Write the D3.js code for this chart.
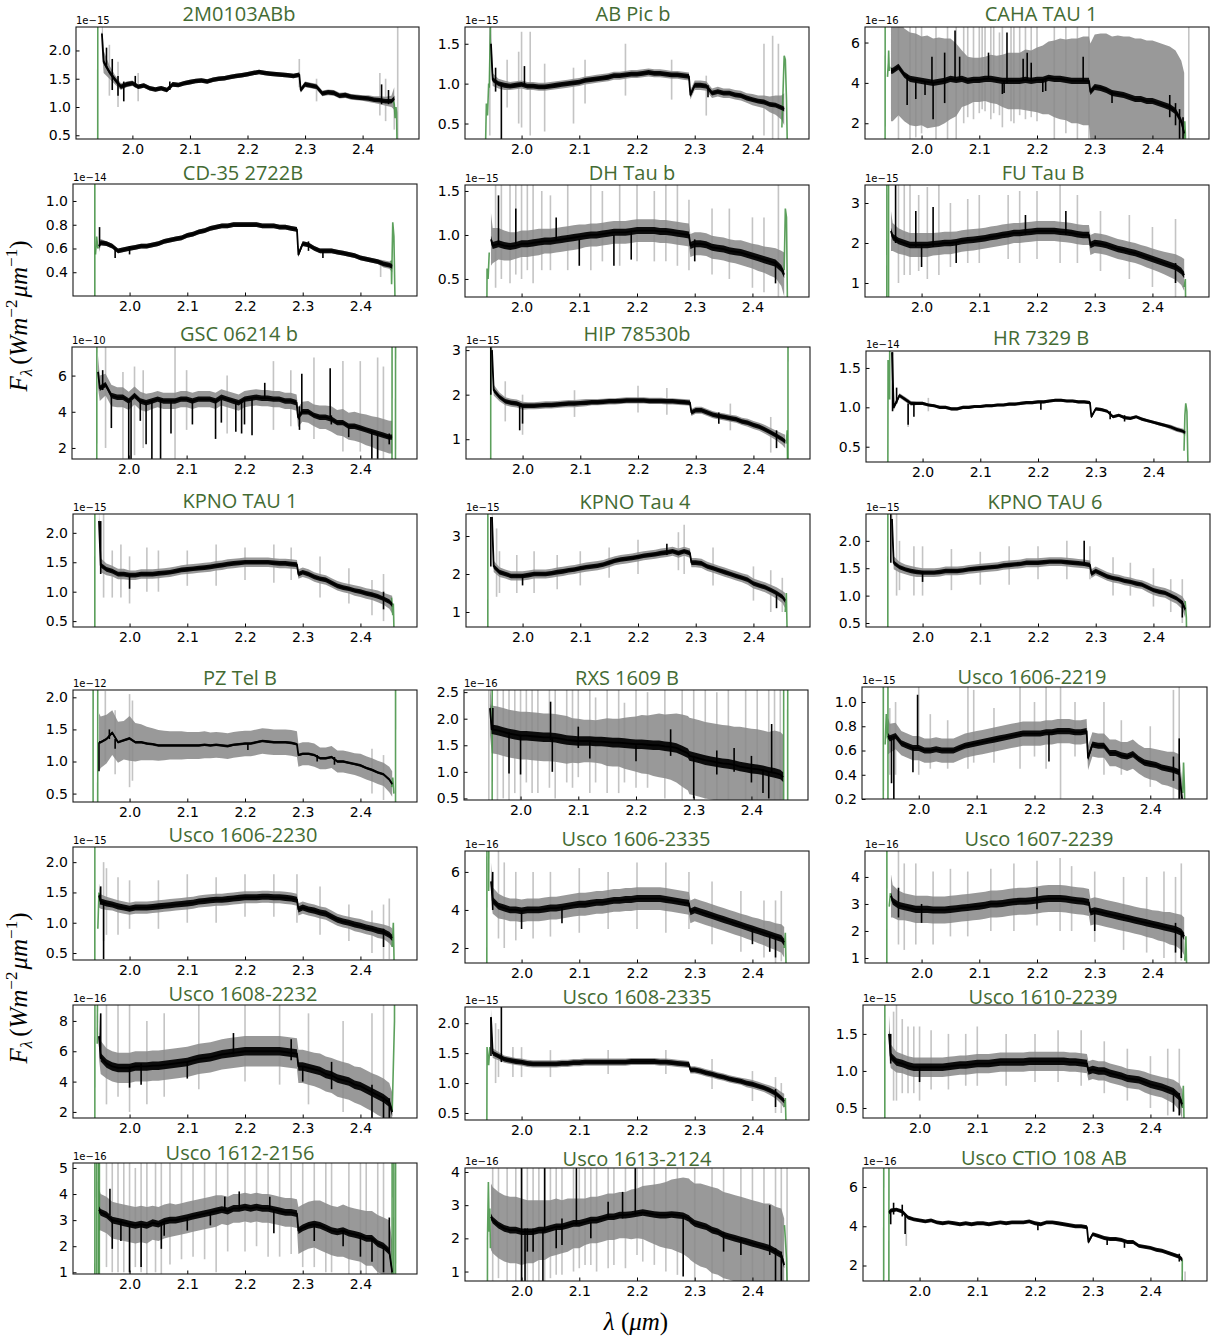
<!DOCTYPE html>
<html>
<head>
<meta charset="utf-8">
<script src="https://cdn.jsdelivr.net/npm/d3@7/dist/d3.min.js"></script>
<style>
  body { margin: 0; background: #fff; }
  svg { display: block; }
</style>
</head>
<body>
<svg id="chart" width="1222" height="1341"></svg>
<script>
// K-band spectra of young companions: flux (black), uncertainty (grey), band edges (green)

const objectNames = ["2M0103ABb","AB Pic b","CAHA TAU 1","CD-35 2722B","DH Tau b","FU Tau B",
  "GSC 06214 b","HIP 78530b","HR 7329 B","KPNO TAU 1","KPNO Tau 4","KPNO TAU 6",
  "PZ Tel B","RXS 1609 B","Usco 1606-2219","Usco 1606-2230","Usco 1606-2335","Usco 1607-2239",
  "Usco 1608-2232","Usco 1608-2335","Usco 1610-2239","Usco 1612-2156","Usco 1613-2124","Usco CTIO 108 AB"];

// power of ten applied to each panel's flux axis
const fluxExponents = [-15,-15,-16,-14,-15,-15,-10,-15,-14,-15,-15,-15,-12,-16,-15,-15,-16,-16,-16,-15,-15,-16,-16,-16];

const yLimits = [[0.434,2.415],[0.306,1.71],[1.22,6.77],[0.2,1.143],[0.295,1.568],[0.65,3.45],
  [1.39,7.58],[0.556,3.07],[0.306,1.715],[0.4,2.32],[0.605,3.58],[0.427,2.49],
  [0.369,2.114],[0.47,2.54],[0.2,1.124],[0.385,2.25],[1.21,7.1],[0.815,4.96],
  [1.6,9.05],[0.383,2.27],[0.365,1.89],[0.935,5.19],[0.715,4.12],[1.21,6.97]];

const yTickValues = [[0.5,1.0,1.5,2.0],[0.5,1.0,1.5],[2,4,6],[0.4,0.6,0.8,1.0],[0.5,1.0,1.5],[1,2,3],
  [2,4,6],[1,2,3],[0.5,1.0,1.5],[0.5,1.0,1.5,2.0],[1,2,3],[0.5,1.0,1.5,2.0],
  [0.5,1.0,1.5,2.0],[0.5,1.0,1.5,2.0,2.5],[0.2,0.4,0.6,0.8,1.0],[0.5,1.0,1.5,2.0],[2,4,6],[1,2,3,4],
  [2,4,6,8],[0.5,1.0,1.5,2.0],[0.5,1.0,1.5],[1,2,3,4,5],[1,2,3,4],[2,4,6]];

const xTickValues = [2.0, 2.1, 2.2, 2.3, 2.4];

// wavelength samples (micron)
const waveGrid = [1.947,1.95,1.96,1.97,1.98,1.99,2.00,2.01,2.02,2.03,
  2.04,2.05,2.06,2.07,2.08,2.09,2.10,2.11,2.12,2.13,
  2.14,2.15,2.16,2.17,2.18,2.19,2.20,2.21,2.22,2.23,
  2.24,2.25,2.26,2.27,2.28,2.29,2.2925,2.30,2.31,2.32,
  2.33,2.34,2.35,2.36,2.37,2.38,2.39,2.40,2.41,2.42,
  2.43,2.44,2.45,2.455];

const fluxValues = [
  [2.30,1.80,1.62,1.48,1.36,1.40,1.42,1.36,1.38,1.33, 1.31,1.33,1.30,1.40,1.39,1.42,1.44,1.46,1.47,1.45, 1.48,1.50,1.51,1.53,1.55,1.56,1.58,1.60,1.62,1.60, 1.59,1.58,1.57,1.56,1.55,1.57,1.30,1.40,1.38,1.36, 1.24,1.26,1.25,1.20,1.21,1.18,1.17,1.16,1.15,1.13, 1.12,1.10,1.10,1.15],
  [1.50,1.05,1.00,0.98,0.97,0.98,0.99,0.97,0.97,0.96, 0.96,0.97,0.98,0.99,1.00,1.01,1.02,1.04,1.05,1.06, 1.07,1.08,1.10,1.10,1.11,1.12,1.12,1.13,1.14,1.13, 1.13,1.12,1.11,1.11,1.10,1.09,0.86,0.98,0.98,0.97, 0.88,0.90,0.88,0.88,0.86,0.85,0.82,0.80,0.78,0.77, 0.74,0.73,0.70,0.68],
  [4.6,4.6,4.8,4.4,4.2,4.15,4.1,4.05,4.0,4.05, 4.1,4.2,4.15,4.2,4.1,4.15,4.15,4.2,4.2,4.15, 4.1,4.1,4.1,4.1,4.15,4.1,4.15,4.15,4.25,4.2, 4.2,4.15,4.1,4.1,4.1,4.1,3.55,3.8,3.75,3.65, 3.5,3.45,3.4,3.3,3.2,3.2,3.1,3.1,3.0,2.9, 2.8,2.6,2.1,1.5],
  [0.62,0.65,0.64,0.62,0.58,0.59,0.60,0.61,0.62,0.62, 0.63,0.64,0.66,0.67,0.68,0.69,0.71,0.72,0.74,0.75, 0.77,0.78,0.79,0.79,0.80,0.80,0.80,0.80,0.80,0.79, 0.79,0.79,0.78,0.78,0.77,0.76,0.55,0.64,0.63,0.60, 0.58,0.58,0.58,0.57,0.56,0.55,0.54,0.52,0.51,0.50, 0.49,0.47,0.46,0.45],
  [0.95,0.88,0.90,0.88,0.87,0.88,0.90,0.90,0.91,0.92, 0.93,0.93,0.94,0.95,0.96,0.97,0.98,0.99,1.00,1.00, 1.01,1.02,1.03,1.03,1.03,1.04,1.05,1.05,1.05,1.05, 1.04,1.04,1.03,1.02,1.01,1.00,0.88,0.90,0.90,0.89, 0.86,0.85,0.84,0.82,0.81,0.80,0.78,0.76,0.74,0.72, 0.70,0.68,0.62,0.55],
  [2.3,2.15,2.05,2.0,1.95,1.95,1.95,1.95,1.97,1.98, 2.0,2.0,2.02,2.05,2.07,2.08,2.1,2.12,2.15,2.17, 2.2,2.22,2.25,2.25,2.27,2.28,2.3,2.3,2.3,2.3, 2.28,2.27,2.25,2.22,2.2,2.2,1.95,2.0,1.98,1.95, 1.9,1.85,1.82,1.78,1.75,1.7,1.65,1.6,1.55,1.5, 1.45,1.4,1.3,1.2],
  [6.2,5.3,5.5,4.9,4.8,4.8,4.6,4.9,4.6,4.5, 4.6,4.7,4.6,4.6,4.6,4.7,4.7,4.6,4.7,4.7, 4.7,4.6,4.8,4.7,4.6,4.5,4.7,4.75,4.8,4.75, 4.75,4.7,4.7,4.6,4.6,4.5,3.7,4.0,4.0,3.8, 3.7,3.7,3.6,3.4,3.4,3.2,3.2,3.1,3.0,2.9, 2.8,2.7,2.6,2.6],
  [3.0,2.1,1.95,1.85,1.82,1.8,1.75,1.75,1.75,1.76, 1.77,1.77,1.78,1.79,1.8,1.8,1.81,1.82,1.83,1.83, 1.84,1.85,1.85,1.86,1.87,1.87,1.87,1.87,1.86,1.86, 1.86,1.85,1.85,1.84,1.83,1.82,1.6,1.65,1.65,1.6, 1.55,1.52,1.5,1.47,1.45,1.4,1.37,1.32,1.28,1.22, 1.15,1.08,1.0,0.95],
  [1.70,1.00,1.15,1.10,1.05,1.05,1.05,1.03,1.02,1.00, 1.00,0.98,0.98,1.00,1.00,1.01,1.01,1.02,1.02,1.03, 1.03,1.04,1.04,1.05,1.06,1.06,1.07,1.07,1.08,1.09, 1.09,1.08,1.08,1.07,1.07,1.06,0.88,0.98,0.97,0.95, 0.88,0.90,0.87,0.86,0.88,0.85,0.83,0.81,0.79,0.77, 0.75,0.72,0.70,0.68],
  [2.2,1.45,1.38,1.35,1.3,1.3,1.28,1.28,1.3,1.3, 1.3,1.31,1.32,1.33,1.35,1.37,1.38,1.39,1.4,1.41, 1.42,1.44,1.45,1.47,1.48,1.49,1.5,1.5,1.5,1.5, 1.5,1.49,1.48,1.48,1.47,1.46,1.3,1.33,1.3,1.25, 1.22,1.2,1.15,1.1,1.07,1.05,1.02,1.0,0.97,0.95, 0.92,0.88,0.83,0.78],
  [3.5,2.2,2.05,2.0,1.95,1.95,1.95,1.97,2.0,2.0, 2.0,2.02,2.05,2.07,2.1,2.12,2.15,2.18,2.2,2.22, 2.25,2.3,2.35,2.38,2.4,2.42,2.45,2.48,2.5,2.52, 2.55,2.57,2.6,2.55,2.6,2.55,2.3,2.3,2.28,2.2, 2.15,2.1,2.05,2.0,1.95,1.9,1.85,1.75,1.7,1.65, 1.58,1.5,1.4,1.3],
  [2.4,1.6,1.52,1.48,1.45,1.43,1.42,1.42,1.42,1.43, 1.45,1.45,1.45,1.46,1.48,1.49,1.5,1.51,1.52,1.53, 1.55,1.56,1.57,1.58,1.6,1.6,1.6,1.61,1.62,1.62, 1.62,1.61,1.6,1.59,1.58,1.56,1.4,1.45,1.4,1.35, 1.32,1.3,1.27,1.25,1.22,1.2,1.15,1.1,1.07,1.05, 1.0,0.95,0.87,0.75],
  [1.3,1.3,1.35,1.45,1.3,1.33,1.36,1.3,1.3,1.28, 1.27,1.25,1.25,1.25,1.25,1.25,1.25,1.25,1.25,1.26, 1.25,1.26,1.25,1.24,1.26,1.27,1.28,1.28,1.3,1.32, 1.31,1.3,1.3,1.3,1.29,1.27,1.1,1.12,1.12,1.1, 1.05,1.05,1.07,1.0,1.0,0.98,0.96,0.94,0.9,0.87, 0.83,0.8,0.72,0.65],
  [2.2,1.8,1.78,1.75,1.72,1.7,1.68,1.68,1.67,1.66, 1.65,1.65,1.64,1.62,1.6,1.59,1.58,1.58,1.58,1.57, 1.57,1.56,1.55,1.55,1.54,1.53,1.52,1.52,1.51,1.5, 1.5,1.48,1.47,1.45,1.4,1.35,1.3,1.28,1.25,1.22, 1.2,1.18,1.16,1.15,1.13,1.1,1.08,1.06,1.05,1.03, 1.0,0.98,0.95,0.9],
  [0.72,0.7,0.72,0.66,0.64,0.62,0.62,0.6,0.6,0.61, 0.6,0.6,0.6,0.62,0.64,0.65,0.66,0.67,0.68,0.69, 0.7,0.71,0.72,0.73,0.74,0.74,0.74,0.74,0.75,0.75, 0.76,0.76,0.76,0.75,0.75,0.76,0.54,0.65,0.64,0.64, 0.58,0.58,0.56,0.55,0.57,0.53,0.5,0.49,0.48,0.46, 0.45,0.44,0.42,0.2],
  [1.45,1.35,1.32,1.3,1.27,1.25,1.23,1.25,1.25,1.25, 1.26,1.27,1.28,1.29,1.3,1.31,1.32,1.33,1.35,1.36, 1.37,1.38,1.38,1.39,1.4,1.41,1.42,1.42,1.42,1.43, 1.43,1.42,1.42,1.41,1.4,1.38,1.22,1.25,1.22,1.2, 1.17,1.15,1.1,1.05,1.02,1.0,0.97,0.95,0.92,0.9, 0.87,0.85,0.8,0.75],
  [5.5,4.5,4.2,4.1,4.0,4.0,3.95,4.0,4.0,4.0, 4.05,4.1,4.1,4.15,4.2,4.25,4.3,4.3,4.35,4.4, 4.4,4.45,4.5,4.5,4.55,4.55,4.6,4.6,4.6,4.6, 4.6,4.55,4.5,4.45,4.4,4.35,3.9,4.0,3.9,3.8, 3.7,3.6,3.5,3.4,3.3,3.2,3.1,3.0,2.9,2.8, 2.7,2.6,2.5,2.3],
  [3.3,3.1,2.95,2.9,2.85,2.8,2.8,2.8,2.78,2.78, 2.78,2.8,2.82,2.85,2.87,2.9,2.92,2.95,3.0,3.0, 3.02,3.05,3.08,3.1,3.1,3.12,3.15,3.18,3.2,3.2, 3.2,3.18,3.15,3.12,3.1,3.05,2.7,2.75,2.7,2.65, 2.6,2.55,2.5,2.45,2.4,2.35,2.3,2.25,2.2,2.15, 2.1,2.05,1.95,1.8],
  [7.0,5.6,5.2,5.0,4.9,4.9,4.9,5.0,5.0,5.0, 5.05,5.05,5.1,5.15,5.2,5.25,5.3,5.4,5.5,5.55, 5.6,5.7,5.8,5.85,5.9,5.95,6.0,6.0,6.0,6.0, 6.0,6.0,6.0,5.95,5.9,5.85,5.0,5.0,4.9,4.8, 4.7,4.5,4.4,4.2,4.1,4.0,3.8,3.7,3.5,3.3, 3.1,2.9,2.6,2.0],
  [2.1,1.5,1.45,1.4,1.38,1.36,1.35,1.33,1.32,1.32, 1.32,1.32,1.32,1.33,1.33,1.34,1.34,1.35,1.35,1.35, 1.35,1.35,1.35,1.35,1.35,1.36,1.36,1.36,1.36,1.36, 1.35,1.35,1.34,1.33,1.32,1.31,1.22,1.22,1.2,1.17, 1.15,1.12,1.1,1.07,1.05,1.03,1.0,0.98,0.95,0.92, 0.88,0.83,0.75,0.7],
  [1.5,1.2,1.12,1.1,1.07,1.05,1.05,1.05,1.05,1.05, 1.05,1.06,1.07,1.08,1.08,1.09,1.1,1.1,1.1,1.11, 1.12,1.12,1.12,1.12,1.12,1.13,1.13,1.13,1.13,1.13, 1.13,1.13,1.12,1.12,1.11,1.1,1.0,1.02,1.0,1.0, 0.97,0.95,0.93,0.9,0.89,0.88,0.85,0.82,0.8,0.78, 0.75,0.72,0.65,0.55],
  [3.4,3.3,3.2,3.0,2.95,2.9,2.85,2.8,2.85,2.8, 2.9,2.85,2.95,3.0,3.0,3.05,3.1,3.15,3.2,3.25, 3.3,3.35,3.4,3.35,3.45,3.45,3.5,3.45,3.5,3.45, 3.45,3.4,3.35,3.3,3.3,3.25,2.6,2.7,2.8,2.85, 2.8,2.7,2.6,2.55,2.6,2.5,2.45,2.4,2.3,2.3, 2.1,2.0,1.8,1.0],
  [2.65,2.55,2.4,2.3,2.25,2.25,2.2,2.2,2.2,2.25, 2.25,2.3,2.35,2.35,2.4,2.45,2.45,2.5,2.55,2.55, 2.6,2.65,2.65,2.7,2.7,2.72,2.75,2.78,2.75,2.72, 2.7,2.7,2.72,2.7,2.68,2.6,2.55,2.45,2.4,2.35, 2.25,2.2,2.1,2.05,2.0,1.95,1.9,1.85,1.8,1.75, 1.7,1.6,1.5,1.2],
  [4.7,4.8,4.85,4.75,4.45,4.35,4.3,4.25,4.3,4.2, 4.15,4.2,4.15,4.1,4.15,4.1,4.15,4.15,4.1,4.15, 4.2,4.15,4.2,4.2,4.2,4.25,4.15,4.1,4.2,4.2, 4.15,4.1,4.05,4.0,4.0,3.95,3.2,3.6,3.5,3.4, 3.35,3.35,3.3,3.2,3.2,3.0,2.95,2.9,2.8,2.75, 2.65,2.55,2.45,2.3]
];

// pixel-to-pixel scatter of each spectrum (same units as its flux)
const fluxScatter = [0.04,0.03,0.15,0.02,0.04,0.08,0.15,0.05,0.02,0.04,0.06,0.04,
  0.02,0.09,0.025,0.05,0.18,0.13,0.28,0.04,0.05,0.13,0.1,0.1];

// one-sigma uncertainty at each wavelength sample
const fluxErrors = [
  [.3,.2,.12,.08,.06,.05,.05,.04,.04,.04, .04,.04,.04,.04,.04,.04,.04,.04,.04,.04, .04,.04,.04,.04,.04,.04,.04,.04,.04,.04, .04,.04,.04,.04,.04,.04,.05,.05,.05,.05, .05,.05,.05,.05,.05,.05,.05,.05,.06,.06, .07,.08,.1,.2],
  [.25,.08,.06,.06,.05,.05,.05,.05,.05,.05, .05,.05,.05,.05,.05,.05,.05,.05,.05,.05, .05,.05,.05,.05,.05,.05,.05,.05,.05,.05, .05,.05,.05,.05,.05,.05,.06,.06,.06,.06, .06,.06,.06,.06,.06,.06,.06,.07,.07,.08, .1,.12,.15,.2],
  [2.5,2.5,2.4,2.3,2.3,2.3,2.2,2.3,2.2,2.2, 2.1,2.0,1.8,1.4,1.2,1.1,1.1,1.1,1.2,1.2, 1.3,1.4,1.4,1.4,1.5,1.5,1.6,1.7,1.8,1.9, 2.0,2.0,2.1,2.1,2.2,2.2,2.4,2.6,2.7,2.8, 2.8,2.9,2.9,3,3,3,3,3,3,3, 3,3,3,3],
  [.05,.03,.02,.02,.02,.02,.02,.02,.02,.02, .02,.02,.02,.02,.02,.02,.02,.02,.02,.02, .02,.02,.02,.02,.02,.02,.02,.02,.02,.02, .02,.02,.02,.02,.02,.02,.02,.02,.02,.02, .02,.02,.02,.02,.02,.02,.02,.02,.02,.02, .02,.03,.03,.05],
  [.3,.2,.18,.17,.16,.15,.15,.15,.15,.15, .14,.14,.14,.14,.14,.14,.14,.13,.13,.13, .13,.13,.13,.13,.13,.13,.13,.13,.13,.13, .13,.13,.13,.13,.13,.13,.13,.13,.13,.13, .13,.13,.13,.13,.13,.14,.14,.14,.15,.15, .16,.17,.2,.25],
  [.5,.35,.32,.3,.3,.3,.3,.3,.28,.28, .28,.28,.27,.27,.27,.27,.26,.26,.26,.26, .26,.26,.25,.25,.25,.25,.25,.25,.25,.25, .25,.25,.25,.25,.25,.25,.25,.25,.25,.25, .25,.25,.25,.25,.25,.25,.26,.26,.27,.28, .3,.32,.35,.4],
  [.9,.7,.6,.6,.55,.55,.5,.5,.5,.5, .45,.45,.45,.45,.45,.45,.45,.45,.45,.45, .45,.45,.45,.45,.45,.45,.45,.45,.45,.45, .45,.45,.45,.45,.45,.45,.55,.55,.6,.6, .65,.65,.7,.7,.75,.75,.8,.8,.85,.85, .9,.9,.9,.9],
  [.2,.12,.1,.09,.09,.09,.09,.08,.08,.08, .08,.08,.08,.08,.08,.08,.08,.08,.07,.07, .07,.07,.07,.07,.07,.07,.07,.07,.07,.07, .07,.07,.07,.07,.07,.07,.08,.08,.08,.08, .08,.08,.08,.08,.08,.08,.09,.09,.09,.1, .1,.11,.13,.15],
  [.05,.04,.03,.03,.03,.02,.02,.02,.02,.02, .02,.02,.02,.02,.02,.02,.02,.02,.02,.02, .02,.02,.02,.02,.02,.02,.02,.02,.02,.02, .02,.02,.02,.02,.02,.02,.02,.02,.02,.02, .02,.02,.02,.02,.02,.02,.02,.02,.02,.02, .03,.03,.03,.04],
  [.2,.12,.1,.09,.09,.09,.08,.08,.08,.08, .08,.08,.08,.08,.08,.08,.08,.08,.08,.08, .08,.08,.08,.08,.08,.08,.08,.08,.08,.08, .08,.08,.08,.08,.08,.08,.08,.08,.08,.08, .08,.08,.08,.08,.08,.08,.09,.09,.09,.09, .1,.1,.12,.15],
  [.3,.15,.13,.12,.12,.12,.12,.12,.12,.12, .12,.12,.12,.12,.12,.12,.12,.12,.12,.12, .12,.12,.12,.12,.12,.12,.12,.12,.12,.12, .12,.12,.12,.12,.12,.12,.12,.12,.12,.12, .12,.12,.12,.12,.12,.12,.13,.13,.13,.13, .14,.15,.16,.2],
  [.2,.12,.1,.09,.09,.09,.08,.08,.08,.08, .08,.08,.08,.08,.08,.08,.08,.08,.08,.08, .08,.08,.08,.08,.08,.08,.08,.08,.08,.08, .08,.08,.08,.08,.08,.08,.08,.08,.08,.08, .08,.08,.08,.08,.08,.08,.09,.09,.09,.09, .1,.1,.12,.15],
  [.45,.4,.38,.35,.32,.3,.35,.3,.28,.26, .25,.24,.23,.22,.22,.22,.21,.21,.21,.21, .2,.2,.2,.2,.2,.2,.2,.2,.2,.2, .2,.2,.2,.2,.2,.2,.18,.18,.18,.18, .17,.17,.17,.17,.17,.17,.17,.18,.18,.18, .18,.18,.2,.2],
  [.5,.45,.45,.45,.45,.45,.45,.45,.45,.45, .45,.45,.45,.45,.45,.42,.42,.4,.4,.4, .42,.45,.45,.45,.48,.5,.52,.55,.55,.58, .6,.6,.62,.65,.68,.7,.72,.72,.72,.72, .72,.72,.72,.72,.72,.75,.75,.75,.75,.75, .75,.8,.8,.8],
  [.15,.12,.11,.1,.1,.1,.1,.1,.1,.1, .1,.1,.1,.1,.1,.1,.1,.1,.1,.1, .1,.1,.1,.1,.1,.1,.1,.1,.1,.1, .1,.1,.1,.1,.1,.1,.1,.1,.1,.1, .11,.11,.11,.12,.12,.12,.12,.13,.13,.14, .14,.15,.15,.15],
  [.2,.12,.11,.1,.1,.1,.1,.1,.1,.1, .1,.1,.1,.1,.1,.1,.1,.1,.1,.1, .1,.1,.1,.1,.1,.1,.1,.1,.1,.1, .1,.1,.1,.1,.1,.1,.1,.1,.1,.1, .1,.1,.1,.1,.1,.1,.11,.11,.11,.11, .12,.12,.14,.16],
  [1.0,.7,.65,.6,.6,.6,.6,.6,.6,.6, .6,.6,.6,.6,.6,.6,.6,.6,.6,.6, .6,.6,.6,.6,.6,.6,.6,.6,.6,.6, .6,.6,.6,.6,.6,.6,.6,.6,.6,.6, .6,.6,.6,.6,.6,.6,.62,.62,.65,.65, .7,.7,.75,.8],
  [.8,.6,.55,.5,.5,.5,.5,.5,.5,.5, .5,.5,.5,.5,.5,.5,.5,.5,.5,.5, .5,.5,.5,.5,.5,.5,.5,.5,.5,.5, .5,.5,.5,.5,.5,.5,.5,.5,.5,.5, .5,.5,.5,.5,.5,.5,.52,.52,.55,.55, .6,.6,.65,.7],
  [1.5,1.1,1.0,1.0,1.0,1.0,1.0,1.0,1.0,1.0, 1.0,1.0,1.0,1.0,1.0,1.0,1.0,1.0,1.0,1.0, 1.0,1.0,1.0,1.0,1.0,1.0,1.0,1.0,1.0,1.0, 1.0,1.0,1.0,1.0,1.0,1.0,1.1,1.1,1.1,1.1, 1.15,1.15,1.15,1.2,1.2,1.2,1.2,1.25,1.25,1.25, 1.3,1.3,1.3,1.3],
  [.15,.08,.07,.06,.06,.06,.06,.06,.06,.06, .06,.06,.06,.06,.06,.06,.06,.06,.06,.06, .06,.06,.06,.06,.06,.06,.06,.06,.06,.06, .06,.06,.06,.06,.06,.06,.06,.06,.06,.06, .06,.06,.06,.06,.06,.06,.07,.07,.07,.07, .08,.09,.1,.12],
  [.25,.16,.14,.13,.13,.13,.13,.13,.13,.13, .13,.13,.13,.13,.13,.13,.13,.13,.13,.13, .13,.13,.13,.13,.13,.13,.13,.13,.13,.13, .13,.13,.13,.13,.13,.13,.13,.13,.13,.13, .13,.13,.13,.13,.13,.13,.14,.14,.14,.14, .15,.16,.18,.2],
  [.8,.7,.7,.7,.7,.7,.7,.7,.7,.7, .65,.65,.65,.65,.6,.6,.6,.6,.6,.6, .6,.6,.55,.55,.55,.55,.55,.55,.55,.55, .55,.55,.55,.55,.55,.55,.9,.9,.9,.9, .95,.95,.95,.95,1,1,1,1,1.05,1.05, 1.1,1.1,1.2,1.2],
  [1,1,1,1,1,1,1,.95,.95,.9, .9,.85,.85,.8,.8,.75,.75,.7,.7,.7, .7,.7,.7,.7,.7,.75,.75,.8,.85,.9, .95,1,1.05,1.1,1.15,1.2,1.2,1.2,1.25,1.25, 1.3,1.3,1.3,1.3,1.3,1.3,1.3,1.3,1.3,1.3, 1.35,1.35,1.4,1.4],
  [.1,.08,.07,.07,.07,.07,.07,.07,.07,.07, .07,.07,.07,.07,.07,.07,.07,.07,.07,.07, .07,.07,.07,.07,.07,.07,.07,.07,.07,.07, .07,.07,.07,.07,.07,.07,.07,.07,.07,.07, .07,.07,.07,.07,.07,.07,.07,.07,.07,.07, .08,.08,.1,.12]
];

// narrow features in the flux: [wavelength, from, to]
const fluxSpikes = [
  [[1.955,1.7,2.05],[1.965,1.3,1.85],[1.975,1.2,1.55],[1.985,1.1,1.45],[2.005,1.35,1.55],[2.065,1.3,1.45],[2.433,1.05,1.4],[2.445,1.05,1.3]],
  [[1.965,0.3,1.0],[2.005,0.98,1.22],[1.955,0.9,1.2],[2.323,0.83,0.98]],
  [[2.058,4.2,6.6],[2.148,4.0,6.5],[2.116,4.2,5.5],[2.04,4.1,5.5],[2.018,4.0,5.3],[2.066,4.2,5.3],[2.28,4.1,5.3],[2.176,4.1,5.2],[2.183,4.1,5.5],[2.19,4.1,5.0],[2.02,2.2,4.0],[1.975,2.9,4.4],[2.04,3.0,4.1],[2.14,3.45,4.0],[2.143,3.5,4.1],[2.21,3.55,4.2],[2.215,3.6,4.2],[1.99,3.2,4.2],[2.006,3.4,4.1],[2.33,3.0,3.6],[2.43,2.3,3.4],[2.44,1.9,3.0],[2.447,1.2,2.7],[2.453,1.2,2.3]],
  [[1.948,0.62,0.78],[1.975,0.52,0.6],[2.0,0.55,0.62],[2.335,0.52,0.58],[2.31,0.58,0.66]],
  [[2.1,0.65,0.95],[2.16,0.65,1.0],[2.19,0.72,1.05],[1.96,0.9,1.45],[1.99,0.9,1.3],[2.06,0.95,1.2],[2.3,0.7,0.95],[2.44,0.45,0.7]],
  [[1.955,2.0,3.45],[1.99,1.9,2.8],[2.02,1.9,2.9],[2.18,2.2,2.7],[2.25,2.2,2.8],[2.0,1.4,1.95],[2.06,1.5,2.0],[2.44,1.0,1.5]],
  [[1.955,5.2,6.3],[2.299,4.0,6.1],[2.348,3.7,6.4],[2.235,4.7,5.6],[2.0,1.3,4.6],[2.004,1.3,4.6],[2.03,2.2,4.5],[2.04,1.3,4.6],[2.055,1.4,4.6],[1.97,3.1,4.9],[2.073,2.8,4.6],[2.15,2.5,4.6],[2.185,2.9,4.6],[2.195,2.8,4.6],[2.213,2.7,4.7],[2.42,1.4,2.9],[2.43,1.4,2.8],[2.295,3.0,4.3],[2.02,3.5,4.6],[2.11,3.3,4.6],[2.16,3.4,4.7],[2.2,3.3,4.7],[2.35,3.3,3.8],[2.38,2.6,3.2],[2.45,2.2,2.8]],
  [[1.945,2.0,3.07],[1.995,1.2,1.75],[2.0,1.35,1.75],[2.34,1.35,1.6],[2.44,0.8,1.2]],
  [[1.955,1.05,1.25],[1.975,0.78,1.05],[1.948,0.95,1.7],[1.985,0.88,1.05],[2.205,0.97,1.07],[2.325,0.85,0.95],[2.35,0.82,0.9]],
  [[1.95,1.3,2.2],[2.0,1.05,1.3],[2.44,0.7,1.0]],
  [[1.945,2.2,3.5],[2.0,1.7,2.0],[2.25,2.5,2.8],[2.44,1.1,1.5]],
  [[1.945,1.6,2.49],[2.28,1.55,2.0],[2.0,1.25,1.45],[2.45,0.6,0.9]],
  [[1.947,0.85,1.3],[1.975,1.2,1.35],[2.205,1.18,1.28],[2.325,1.0,1.1],[2.355,0.95,1.07],[1.965,1.35,1.5]],
  [[1.952,1.8,2.2],[2.052,1.6,2.32],[1.98,0.97,1.75],[2.0,0.95,1.7],[2.055,1.0,1.65],[2.3,0.5,1.3],[2.42,0.6,1.05],[2.43,0.5,1.0],[2.435,1.0,1.9],[2.1,1.45,1.85],[2.12,1.25,1.6],[2.2,1.2,1.5],[2.26,1.3,1.8],[2.34,0.95,1.4],[2.37,1.0,1.45],[2.4,0.8,1.3]],
  [[1.953,0.33,0.72],[1.957,0.2,0.72],[1.99,0.42,0.62],[1.998,0.62,1.06],[2.225,0.51,0.75],[2.45,0.2,0.7],[2.44,0.35,0.55]],
  [[1.955,0.4,1.35],[1.95,1.3,1.6],[2.44,0.6,0.9]],
  [[1.95,4.0,6.0],[2.0,3.0,4.0],[2.07,3.3,4.1],[2.4,2.2,3.0],[2.43,1.8,2.7],[2.44,1.5,2.6]],
  [[1.96,2.5,3.6],[2.0,2.3,3.0],[2.2,2.8,3.6],[2.3,2.0,2.7],[2.44,1.2,2.3],[2.45,1.0,2.0]],
  [[1.95,5.5,8.5],[2.0,3.6,5.0],[2.02,3.8,5.2],[2.18,5.8,7.2],[2.28,5.4,6.8],[2.3,4.0,5.0],[2.42,1.6,3.8],[2.44,1.6,3.0],[2.45,1.6,2.9],[2.1,4.2,5.3],[2.35,3.5,5.3]],
  [[1.947,1.45,2.1],[1.965,1.35,2.27],[2.44,0.6,0.9]],
  [[1.95,1.1,1.5],[2.0,0.85,1.05],[2.44,0.45,0.75],[2.45,0.4,0.7]],
  [[1.966,3.2,4.2],[1.97,1.9,3.0],[2.0,1.0,2.85],[2.02,1.2,2.85],[2.055,1.9,2.9],[1.985,2.2,3.0],[2.25,2.5,3.4],[2.32,2.2,2.85],[2.42,1.4,2.3],[2.44,1.0,2.0],[2.19,3.4,4.1],[2.165,3.4,3.9],[2.243,3.4,3.9],[2.45,1.8,3.1],[2.14,2.8,3.3],[2.1,2.6,3.1],[2.06,2.4,2.95],[2.37,2.0,2.6],[2.4,1.6,2.4]],
  [[2.0,0.715,4.12],[2.006,0.715,2.3],[2.037,0.715,2.3],[2.04,2.2,4.12],[2.095,2.4,4.12],[2.175,2.6,3.4],[2.197,2.7,4.12],[2.28,0.85,2.7],[2.44,0.715,1.7],[2.45,0.715,1.6],[2.43,1.5,3.0],[2.01,1.6,2.3],[2.02,1.6,2.3],[2.06,1.7,2.3],[2.07,1.8,2.6],[2.12,2.0,2.5],[2.15,2.6,3.1],[2.35,1.6,2.2],[2.38,1.5,2.0]],
  [[1.975,3.6,4.6],[1.955,4.6,5.2],[1.97,4.5,5.1],[2.205,3.8,4.15],[2.325,3.05,3.4],[2.355,2.9,3.3],[2.45,2.2,2.6],[1.95,4.1,4.8]]
];

// isolated large uncertainties: [wavelength, low, high]
const errorSpikes = [
  [[1.96,1.2,2.1],[1.975,1.0,1.8],[2.01,1.1,1.6],[2.29,1.35,1.85],[2.32,1.1,1.5],[2.43,0.85,1.6],[2.44,0.75,1.5],[2.455,0.6,1.2],[2.461,0,3]],
  [[1.995,0.5,1.4],[2.0,0.45,1.65],[2.015,0.35,1.65],[2.04,0.4,1.25],[2.09,0.5,1.2],[2.11,0.75,1.3],[2.18,0.85,1.5],[2.26,0.8,1.3],[2.32,0.6,1.1],[2.42,0.35,1.5],[2.435,0.3,1.6],[2.445,0.3,1.5],[1.945,0.35,1.7],[1.975,0.7,1.3]],
  [[2.06,1.2,6.8],[2.08,2.3,6.8],[2.1,2.5,6.8],[2.12,2.2,6.8],[2.135,2.4,6.5],[2.16,2.0,6.8],[2.18,2.2,6.8],[2.2,2.1,6.8],[2.025,1.2,6.8],[2.045,1.2,6.8],[1.99,1.3,6.8],[2.11,2.6,6.8],[2.17,2.4,6.8],[2.14,1.8,6.8],[2.19,2.3,6.8],[2.09,2.2,6.8],[2.463,1.2,6.8],
   [1.96,1.22,6.77],[1.98,1.22,6.77],[2.0,1.5,6.77],[2.23,1.22,6.77],[2.25,1.5,6.77],[2.27,1.22,6.77],[2.29,1.22,6.77],[2.073,2.0,6.77],[2.105,2.7,6.77],[2.125,2.5,6.77],[2.155,2.1,6.77]],
  [[2.435,0.36,0.5]],
  [[1.955,0.4,1.57],[1.98,0.45,1.57],[2.0,0.5,1.57],[2.02,0.45,1.57],[2.05,0.6,1.45],[2.12,0.6,1.57],[2.2,0.7,1.57],[2.23,0.7,1.5],[2.27,0.65,1.57],[2.36,0.5,1.3],[2.42,0.35,1.2],
   [1.965,0.5,1.57],[1.99,0.55,1.57],[2.01,0.6,1.57],[2.035,0.6,1.5],[2.08,0.6,1.57],[2.14,0.7,1.5],[2.17,0.65,1.57],[2.25,0.7,1.57],[2.29,0.6,1.4],[2.33,0.55,1.3],[2.4,0.4,1.2],[2.445,0.3,1.57]],
  [[1.96,1.0,3.45],[1.98,1.2,3.45],[2.01,1.1,3.4],[2.03,1.2,3.45],[2.1,1.5,3.2],[2.2,1.6,3.3],[2.24,1.5,3.45],[2.4,0.9,2.4],
   [1.97,1.2,3.45],[1.995,1.3,3.2],[2.05,1.4,3.0],[2.08,1.5,3.1],[2.15,1.6,3.2],[2.17,1.5,3.3],[2.27,1.5,3.2],[2.31,1.3,2.8],[2.36,1.1,2.7],[2.44,0.65,2.6]],
  [[1.96,2.0,7.6],[1.99,1.4,6.2],[2.01,1.6,6.5],[2.025,2.0,6.3],[2.08,1.4,7.6],[2.1,3.0,6.3],[2.17,2.8,6.0],[2.25,3.0,6.8],[2.28,3.2,6.3],[2.32,2.5,7.0],[2.37,1.8,6.8],[2.4,1.8,6.8],[2.43,1.4,7.0],[2.44,1.4,6.5]],
  [[1.97,1.4,2.3],[2.0,1.1,2.0],[2.09,1.5,2.1],[2.2,1.6,2.2],[2.25,1.55,2.15],[2.36,1.2,1.8],[2.43,0.7,1.5]],
  [[1.975,0.75,1.1],[2.01,0.95,1.12]],
  [[1.97,0.9,1.7],[2.0,0.8,1.6],[2.05,1.0,1.7],[2.1,1.1,1.7],[2.2,1.2,1.75],[2.28,1.2,1.75],[2.38,0.8,1.4],[2.42,0.6,1.2],
   [1.955,0.9,2.32],[1.985,0.9,1.8],[2.03,1.0,1.75],[2.15,1.1,1.8],[2.25,1.15,1.8],[2.33,0.9,1.6],[2.44,0.5,1.3]],
  [[1.96,1.5,2.6],[2.02,1.5,2.6],[2.06,1.6,2.5],[2.15,1.9,2.7],[2.27,2.1,3.1],[2.28,2.0,3.3],[2.4,1.3,2.2],[2.45,1.0,1.9],
   [1.955,1.4,3.2],[1.99,1.5,2.5],[2.1,1.7,2.6],[2.2,2.0,2.9],[2.33,1.7,2.7],[2.43,1.0,2.1]],
  [[1.96,1.1,2.0],[2.0,1.0,1.9],[2.1,1.2,1.8],[2.2,1.3,1.9],[2.29,1.3,1.9],[2.36,1.0,1.6],[2.43,0.7,1.3],
   [1.955,1.0,2.49],[1.985,1.0,1.9],[2.05,1.1,1.85],[2.15,1.2,1.9],[2.25,1.3,2.0],[2.33,1.0,1.7],[2.4,0.8,1.5],[2.45,0.5,1.3]],
  [[1.958,1.0,2.1],[2.0,0.6,2.05],[2.005,0.7,1.95],[1.975,0.8,1.8],[2.42,0.5,1.2],[2.44,0.4,1.1]],
  [[1.96,0.47,2.54],[1.97,0.5,2.54],[1.98,0.47,2.54],[2.0,0.47,2.54],[2.02,0.6,2.54],[2.05,0.7,2.54],[2.08,0.8,2.54],[2.1,0.9,2.54],[2.13,0.8,2.4],[2.15,0.6,2.54],[2.18,0.8,2.3],[2.22,0.7,2.5],[2.28,0.47,2.54],[2.32,0.5,2.54],[2.36,0.47,2.54],[2.41,0.47,2.54],[2.44,0.47,2.54],[2.45,0.47,2.54],[1.945,0.47,2.54],
   [1.99,0.6,2.54],[2.01,0.8,2.54],[2.03,0.6,2.54],[2.06,0.5,2.54],[2.09,0.7,2.54],[2.12,0.6,2.54],[2.17,0.6,2.54],[2.2,0.7,2.54],[2.25,0.5,2.54],[2.3,0.47,2.54],[2.34,0.47,2.5],[2.39,0.47,2.54],[2.43,0.47,2.54]],
  [[1.95,0.4,0.95],[2.0,0.4,1.124],[2.085,0.45,1.124],[2.095,0.5,1.1],[2.175,0.45,1.124],[2.22,0.45,1.124],[2.245,0.2,1.124],[2.32,0.4,1.0],[2.44,0.2,1.1],[2.45,0.2,1.124],
   [1.96,0.4,1.0],[2.02,0.45,0.9],[2.05,0.45,0.85],[2.13,0.5,0.95],[2.2,0.55,1.0],[2.27,0.55,1.0],[2.35,0.4,0.85],[2.4,0.3,0.8]],
  [[1.96,0.8,1.9],[2.0,0.9,1.7],[2.1,1.0,1.8],[2.2,1.1,1.8],[2.29,1.0,1.8],[2.38,0.7,1.3],[2.44,0.4,1.3],
   [1.955,0.7,2.0],[1.98,0.8,1.75],[2.05,0.9,1.7],[2.15,1.0,1.75],[2.25,1.1,1.8],[2.33,0.8,1.6],[2.42,0.5,1.2],[2.45,0.4,1.4]],
  [[1.96,2.5,7.1],[1.99,2.4,6.0],[2.05,2.6,6.0],[2.15,3.0,6.0],[2.25,2.8,6.5],[2.33,2.2,5.5],[2.42,1.5,4.5],[2.45,1.3,5.0],
   [1.97,2.0,6.5],[2.02,2.5,6.0],[2.1,2.8,6.2],[2.2,3.0,6.5],[2.29,3.0,6.0],[2.38,1.8,5.0],[2.44,1.21,4.5]],
  [[1.96,1.5,4.96],[1.99,1.5,4.5],[2.05,1.8,4.3],[2.12,2.0,4.3],[2.2,2.2,4.6],[2.26,2.0,4.4],[2.35,1.3,4.0],[2.42,1.0,4.2],[2.45,0.9,4.5],
   [1.97,1.3,4.5],[2.02,1.5,4.2],[2.08,1.8,4.2],[2.16,2.0,4.5],[2.24,2.0,4.7],[2.3,1.6,4.2],[2.39,1.2,4.0],[2.44,0.815,4.0]],
  [[1.96,2.5,9.05],[1.98,3.0,9.05],[2.0,2.0,9.05],[2.03,2.5,8.0],[2.06,3.0,8.5],[2.12,3.5,9.05],[2.2,4.0,9.05],[2.26,3.8,9.05],[2.31,2.5,8.5],[2.37,2.0,8.0],[2.42,1.6,8.5],[2.44,1.6,9.05]],
  [[1.96,1.1,1.9],[2.0,1.1,1.6],[2.45,0.5,1.0],
   [1.955,1.0,2.0],[1.985,1.1,1.6],[2.05,1.1,1.55],[2.15,1.15,1.55],[2.25,1.15,1.55],[2.33,0.9,1.4],[2.4,0.7,1.2],[2.44,0.5,1.1]],
  [[1.96,0.6,1.89],[1.98,0.7,1.6],[2.0,0.6,1.6],[2.05,0.75,1.5],[2.1,0.8,1.6],[2.2,0.85,1.5],[2.28,0.8,1.55],[2.36,0.6,1.3],[2.43,0.4,1.3],
   [1.955,0.6,1.8],[1.97,0.7,1.7],[1.99,0.7,1.6],[2.02,0.75,1.55],[2.08,0.8,1.5],[2.15,0.8,1.5],[2.24,0.85,1.55],[2.32,0.7,1.4],[2.4,0.5,1.2],[2.45,0.4,1.3]],
  [[1.96,1.2,5.19],[1.98,1.0,5.19],[2.0,0.935,5.19],[2.01,1.2,5.0],[2.03,0.935,5.19],[2.055,0.935,5.19],[2.09,1.5,5.19],[2.11,1.6,5.19],[2.15,1.0,5.19],[2.2,1.8,5.19],[2.22,2.0,5.19],[2.26,1.6,5.19],[2.28,1.7,5.19],[2.32,1.2,5.19],[2.35,1.0,5.19],[2.38,0.935,5.19],[2.41,0.935,5.19],[2.44,0.935,5.19],
   [1.97,1.0,5.19],[1.99,1.0,5.19],[2.02,1.0,5.19],[2.045,1.0,5.19],[2.07,1.3,5.19],[2.13,1.5,5.19],[2.17,1.8,5.19],[2.24,1.6,5.19],[2.3,1.2,5.19],[2.34,1.0,5.19],[2.4,0.935,5.19],[2.43,0.935,5.19]],
  [[1.96,0.8,4.12],[1.99,0.715,4.12],[2.01,0.715,4.12],[2.03,0.715,4.12],[2.05,0.8,4.12],[2.07,0.9,4.12],[2.09,1.0,4.12],[2.11,1.2,4.12],[2.13,1.0,4.12],[2.16,1.2,4.12],[2.18,1.1,4.12],[2.21,1.3,4.12],[2.25,1.0,4.12],[2.3,0.715,4.12],[2.35,0.715,4.12],[2.42,0.715,4.12],[2.45,0.715,4.12],[2.46,0.715,4.12],
   [1.95,0.715,4.12],[1.975,0.715,4.12],[2.0,0.715,4.12],[2.02,0.715,4.12],[2.04,0.715,4.12],[2.06,0.9,4.12],[2.1,1.1,4.12],[2.12,1.2,4.12],[2.15,1.1,4.12],[2.2,1.5,4.12],[2.23,1.2,4.12],[2.27,0.9,4.12],[2.33,0.715,4.12],[2.38,0.715,4.12],[2.4,0.715,4.12],[2.44,0.715,4.12]],
  [[1.977,3.0,4.5],[2.46,1.21,1.7]]
];

// unmasked spectrum at the band edges: segments of [wavelength, flux]
const edgeSpectra = [
  [[[1.9398,0],[1.9402,20]], [[2.4535,1.1],[2.455,1.05],[2.4565,0.8],[2.458,1.0],[2.459,0.9],[2.4603,0]]],
  [[[1.937,0],[1.939,0.75],[1.941,0.6],[1.943,1.0],[1.944,0.95],[1.946,1.7],[1.9465,20]], [[2.451,0.45],[2.453,0.9],[2.455,1.35],[2.457,1.3],[2.459,0.8],[2.461,0]]],
  [[[1.9368,0],[1.9372,20]], [[1.941,4.3],[1.9425,5.0],[1.943,5.6],[1.944,4.6],[1.945,4.8]], [[2.455,1.2],[2.456,2.1],[2.457,1.5],[2.458,0]]],
  [[[1.9398,0],[1.9402,20]], [[1.941,0.55],[1.943,0.7],[1.945,0.6],[1.946,0.62]], [[2.4535,0.5],[2.454,0.3],[2.456,0.82],[2.458,0.7],[2.4605,0]]],
  [[[1.9398,0],[1.9402,0.62],[1.942,0.5],[1.944,0.8]], [[2.455,0.6],[2.457,1.3],[2.459,1.2],[2.461,0]]],
  [[[1.9398,0],[1.9402,20]], [[1.9428,0],[1.9432,20]], [[2.455,0.9],[2.457,1.1],[2.458,0]]],
  [[[1.9448,0],[1.9452,20]], [[2.4548,0],[2.4552,20]], [[2.4608,0],[2.4612,20]]],
  [[[1.9448,0],[1.9452,20]], [[2.457,0.9],[2.4585,1.2],[2.4595,0]], [[2.4598,0],[2.4602,20]]],
  [[[1.9398,0],[1.9402,1.6],[1.941,1.1],[1.942,1.5],[1.943,1.1],[1.9445,20]], [[2.453,0.45],[2.4545,0.9],[2.456,1.05],[2.458,0.95],[2.4605,0]]],
  [[[1.9398,0],[1.9402,20]], [[2.454,0.9],[2.456,0.6],[2.457,0.8],[2.459,0]]],
  [[[1.9398,0],[1.9402,20]], [[2.455,1.0],[2.457,1.5],[2.459,0]]],
  [[[1.9398,0],[1.9402,20]], [[2.455,0.9],[2.457,0.6],[2.458,0]]],
  [[[1.9368,0],[1.9372,20]], [[1.9448,0],[1.9452,20]], [[2.454,0.6],[2.456,0.75],[2.458,0.5]], [[2.4608,0],[2.4612,20]]],
  [[[1.9508,0],[1.9512,20]], [[2.4558,0],[2.4562,20]], [[2.4628,0],[2.4632,20]]],
  [[[1.9388,0],[1.9392,20]], [[1.942,0.65],[1.944,0.9],[1.946,0.7]], [[1.9468,0],[1.9472,20]], [[2.456,0.25],[2.4575,0.5],[2.459,0.3],[2.46,0]]],
  [[[1.9398,0],[1.9402,20]], [[1.945,0.9],[1.947,1.5]], [[2.455,0.6],[2.457,1.0],[2.459,0]]],
  [[[1.9398,0],[1.9402,20]], [[1.943,5.0],[1.945,20]], [[2.455,2.0],[2.457,2.8],[2.459,0]]],
  [[[1.9398,0],[1.9402,20]], [[1.944,2.9],[1.946,3.4]], [[2.456,0.9],[2.458,1.8],[2.46,0]]],
  [[[1.9398,0],[1.9402,20]], [[1.944,6.5],[1.946,20]], [[2.455,2.0],[2.457,5.0],[2.459,8.0],[2.4595,20]]],
  [[[1.9398,0],[1.9402,1.6],[1.941,1.5],[1.943,1.3],[1.945,1.6]], [[2.455,0.6],[2.457,0.75],[2.459,0]]],
  [[[1.9398,0],[1.9402,20]], [[2.455,0.5],[2.457,0.8],[2.459,0]]],
  [[[1.9398,0],[1.9402,20]], [[1.9428,0],[1.9432,20]], [[1.9458,0],[1.9462,20]], [[1.9476,0],[1.948,20]], [[2.4548,0],[2.4552,20]], [[2.4578,0],[2.4582,20]], [[2.4608,0],[2.4612,20]]],
  [[[1.9408,0],[1.941,2.0],[1.9425,3.7],[1.944,2.2],[1.945,2.9],[1.946,1.7]], [[2.4555,2.4],[2.457,2.0],[2.459,1.4],[2.461,0]]],
  [[[1.9378,0],[1.9382,20]], [[1.9468,0],[1.9472,20]], [[2.4548,0],[2.4552,2.3]]]
];

// ---------- layout ----------
const panelBoxes = [
  [76,27,419,139],[465,27,809,139],[865,27,1209,139],
  [73,184,417,296],[465,185,809,297],[865,185,1209,297],
  [72,347,417,459],[466,347,810,459],[866,351,1210,462],
  [73,514,417,627],[466,514,810,627],[866,514,1210,627],
  [73,690,417,802],[464,690,808,800],[862,687,1207,799],
  [73,847,417,960],[465,851,809,963],[865,851,1209,963],
  [73,1005,417,1118],[465,1007,809,1120],[863,1005,1207,1118],
  [73,1163,417,1274],[465,1168,809,1281],[863,1168,1207,1281]
];
const titleCenters = [
  [239,14],[633,14],[1041,14],
  [243,173],[632,173],[1043,173],
  [239,334],[637,334],[1041,338],
  [240,501],[635,502],[1045,502],
  [240,678],[627,678],[1032,677],
  [243,835],[636,839],[1039,839],
  [243,994],[637,997],[1043,997],
  [240,1153],[637,1159],[1044,1158]
];
const xDomain = [1.902, 2.498];

const svg = d3.select('#chart');
const defs = svg.append('defs');
const fmt1 = d3.format('.1f');
const fmt0 = d3.format('d');
const TICK_FONT = 'DejaVu Sans, sans-serif';

objectNames.forEach((name, k) => {
  const [l, t, r, b] = panelBoxes[k];
  const x = d3.scaleLinear().domain(xDomain).range([l, r]);
  const y = d3.scaleLinear().domain(yLimits[k]).range([b, t]);

  defs.append('clipPath').attr('id', `plot-clip-${k}`)
    .append('rect').attr('x', l).attr('y', t).attr('width', r - l).attr('height', b - t);
  const plot = svg.append('g').attr('clip-path', `url(#plot-clip-${k})`);

  const pts = waveGrid.map((w, i) => ({ w, f: fluxValues[k][i], e: fluxErrors[k][i] }));

  // one-sigma uncertainty band
  plot.append('path').datum(pts)
    .attr('d', d3.area().x(d => x(d.w)).y0(d => y(d.f - d.e)).y1(d => y(d.f + d.e)))
    .attr('fill', '#808080').attr('fill-opacity', 0.8);

  plot.selectAll(null).data(errorSpikes[k]).join('line')
    .attr('x1', d => x(d[0])).attr('x2', d => x(d[0]))
    .attr('y1', d => y(d[1])).attr('y2', d => y(d[2]))
    .attr('stroke', '#8a8a8a').attr('stroke-opacity', 0.5).attr('stroke-width', 1.6);

  // band-edge spectrum
  const edgeLine = d3.line().x(d => x(d[0])).y(d => y(d[1]));
  plot.selectAll(null).data(edgeSpectra[k]).join('path')
    .attr('d', edgeLine).attr('fill', 'none')
    .attr('stroke', '#3f8f3f').attr('stroke-opacity', 0.85).attr('stroke-width', 1.6);

  // flux: scatter envelope plus the spectrum itself
  const s = fluxScatter[k];
  plot.append('path').datum(pts)
    .attr('d', d3.area().x(d => x(d.w)).y0(d => y(d.f - s)).y1(d => y(d.f + s)))
    .attr('fill', '#000').attr('fill-opacity', 0.92);
  plot.append('path').datum(pts)
    .attr('d', d3.line().x(d => x(d.w)).y(d => y(d.f)))
    .attr('fill', 'none').attr('stroke', '#000').attr('stroke-width', 1.8)
    .attr('stroke-linejoin', 'round');

  plot.selectAll(null).data(fluxSpikes[k]).join('line')
    .attr('x1', d => x(d[0])).attr('x2', d => x(d[0]))
    .attr('y1', d => y(d[1])).attr('y2', d => y(d[2]))
    .attr('stroke', '#000').attr('stroke-width', 1.6);

  // axes
  const decimals = yTickValues[k].some(v => !Number.isInteger(v));
  const yAxis = d3.axisLeft(y).tickValues(yTickValues[k])
    .tickSizeInner(-3.5).tickSizeOuter(0).tickPadding(5)
    .tickFormat(decimals ? fmt1 : fmt0);
  const gy = svg.append('g').attr('transform', `translate(${l},0)`).call(yAxis);
  gy.select('.domain').remove();

  const xAxis = d3.axisBottom(x).tickValues(xTickValues)
    .tickSizeInner(-3.5).tickSizeOuter(0).tickPadding(5).tickFormat(fmt1);
  const gx = svg.append('g').attr('transform', `translate(0,${b})`).call(xAxis);
  gx.select('.domain').remove();

  [gy, gx].forEach(g => {
    g.selectAll('text').attr('font-family', TICK_FONT).attr('font-size', 14).attr('fill', '#000');
    g.selectAll('line').attr('stroke', '#000').attr('stroke-width', 1);
  });

  svg.append('rect').attr('x', l).attr('y', t).attr('width', r - l).attr('height', b - t)
    .attr('fill', 'none').attr('stroke', '#1a1a1a').attr('stroke-width', 1.1);

  // scale factor
  svg.append('text').attr('x', l).attr('y', t - 3)
    .attr('font-family', TICK_FONT).attr('font-size', 10).attr('fill', '#000')
    .text(`1e\u2212${-fluxExponents[k]}`);

  // object name
  svg.append('text').attr('x', titleCenters[k][0]).attr('y', titleCenters[k][1] + 7)
    .attr('text-anchor', 'middle')
    .attr('font-family', 'Open Sans, Noto Sans, sans-serif').attr('font-size', 20)
    .attr('fill', '#436b33').text(name);
});

// shared axis titles
function fluxAxisTitle(cx, cy) {
  const txt = svg.append('text')
    .attr('transform', `translate(${cx},${cy}) rotate(-90)`)
    .attr('text-anchor', 'middle')
    .attr('font-family', 'Liberation Serif, DejaVu Serif, serif')
    .attr('font-size', 25).attr('fill', '#000');
  txt.append('tspan').attr('font-style', 'italic').text('F');
  txt.append('tspan').attr('font-style', 'italic').attr('font-size', 17).attr('dy', 5).text('λ');
  txt.append('tspan').attr('dy', -5).attr('dx', 4).text('(');
  txt.append('tspan').attr('font-style', 'italic').text('Wm');
  txt.append('tspan').attr('font-size', 17).attr('dy', -10).text('\u22122');
  txt.append('tspan').attr('font-style', 'italic').attr('dy', 10).attr('dx', 2).text('μm');
  txt.append('tspan').attr('font-size', 17).attr('dy', -10).text('\u22121');
  txt.append('tspan').attr('dy', 10).text(')');
}
fluxAxisTitle(27, 316);
fluxAxisTitle(27, 988);

const xTitle = svg.append('text').attr('x', 636).attr('y', 1330)
  .attr('text-anchor', 'middle')
  .attr('font-family', 'Liberation Serif, DejaVu Serif, serif')
  .attr('font-size', 25).attr('fill', '#000');
xTitle.append('tspan').attr('font-style', 'italic').text('λ');
xTitle.append('tspan').text(' (');
xTitle.append('tspan').attr('font-style', 'italic').text('μm');
xTitle.append('tspan').text(')');
</script>
</body>
</html>
